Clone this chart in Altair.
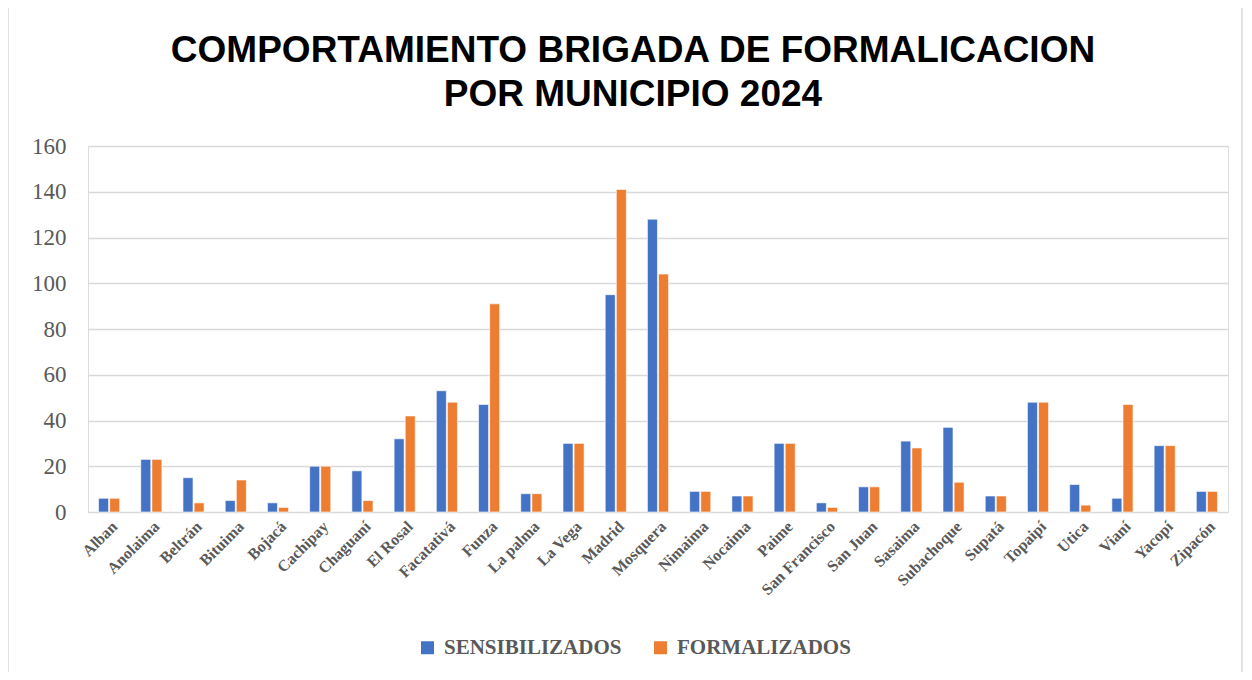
import altair as alt
import pandas as pd

municipios = ["Alban", "Anolaima", "Beltrán", "Bituima", "Bojacá", "Cachipay", "Chaguaní",
              "El Rosal", "Facatativá", "Funza", "La palma", "La Vega", "Madrid", "Mosquera",
              "Nimaima", "Nocaima", "Paime", "San Francisco", "San Juan", "Sasaima",
              "Subachoque", "Supatá", "Topaipí", "Utica", "Vianí", "Yacopí", "Zipacón"]
sensibilizados = [6, 23, 15, 5, 4, 20, 18, 32, 53, 47, 8, 30, 95, 128, 9, 7, 30, 4, 11, 31,
                  37, 7, 48, 12, 6, 29, 9]
formalizados = [6, 23, 4, 14, 2, 20, 5, 42, 48, 91, 8, 30, 141, 104, 9, 7, 30, 2, 11, 28,
                13, 7, 48, 3, 47, 29, 9]
series = ["SENSIBILIZADOS", "FORMALIZADOS"]
colores = ["#4472C4", "#ED7D31"]
y_ticks = [0, 20, 40, 60, 80, 100, 120, 140, 160]
titulo_1 = "COMPORTAMIENTO BRIGADA DE FORMALICACION"
titulo_2 = "POR MUNICIPIO 2024"

rows = []
for m, s, f in zip(municipios, sensibilizados, formalizados):
    rows.append({"Municipio": m, "Serie": series[0], "Valor": s})
    rows.append({"Municipio": m, "Serie": series[1], "Valor": f})
df = pd.DataFrame(rows)

serif = "Liberation Serif"
gray = "#595959"

bars = alt.Chart(df).mark_bar(stroke="white", strokeWidth=0.6).encode(
    x=alt.X("Municipio:N", sort=municipios, title=None,
            scale=alt.Scale(paddingInner=0.5, paddingOuter=0.25),
            axis=alt.Axis(labelAngle=-45, labelAlign="right", labelBaseline="top",
                          labelFont=serif, labelFontWeight="bold", labelFontSize=16,
                          labelColor=gray, labelPadding=6, domain=False, ticks=False,
                          grid=False, labelLimit=300)),
    xOffset=alt.XOffset("Serie:N", sort=series, scale=alt.Scale(paddingInner=0.1)),
    y=alt.Y("Valor:Q", title=None,
            scale=alt.Scale(domain=[0, 160], nice=False),
            axis=alt.Axis(values=y_ticks, labelFont=serif, labelFontSize=23,
                          labelColor=gray, labelPadding=22, domain=False, ticks=False,
                          grid=True, gridColor="#D9D9D9", gridWidth=1.5)),
    color=alt.Color("Serie:N", sort=series,
                    scale=alt.Scale(domain=series, range=colores),
                    legend=alt.Legend(title=None, orient="none", legendX=329, legendY=491,
                                      direction="horizontal", symbolType="square",
                                      symbolSize=169, symbolStrokeWidth=0,
                                      labelFont=serif, labelFontWeight="bold",
                                      labelFontSize=21, labelColor=gray, labelLimit=400,
                                      columnPadding=28, symbolOffset=0, labelOffset=6)),
)

frame = alt.Chart(pd.DataFrame({"a": [0]})).mark_rect(
    fill=None, stroke="#D9D9D9", strokeWidth=1.5
).encode(x=alt.value(-80), x2=alt.value(1154), y=alt.value(-140), y2=alt.value(560))

title_style = dict(font="Liberation Sans", fontWeight="bold", fontSize=37,
                   color="black", align="center", baseline="alphabetic")
t1 = alt.Chart(pd.DataFrame({"t": [titulo_1]})).mark_text(**title_style).encode(
    text="t:N", x=alt.value(545), y=alt.value(-84))
t2 = alt.Chart(pd.DataFrame({"t": [titulo_2]})).mark_text(**title_style).encode(
    text="t:N", x=alt.value(545), y=alt.value(-40))

chart = alt.layer(frame, bars, t1, t2).properties(
    width=1140, height=366,
    padding={"left": 80, "top": 138, "right": 16, "bottom": 160},
    autosize=alt.AutoSizeParams(type="none"),
).configure_view(stroke=None).configure(background="white")

chart.save("out.html", embed_options={"renderer": "svg", "actions": False})
